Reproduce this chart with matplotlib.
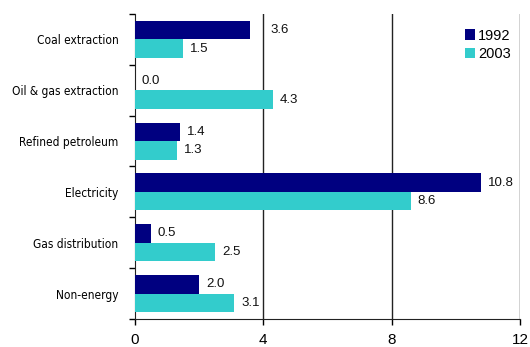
import matplotlib
matplotlib.use("Agg")
import matplotlib.pyplot as plt
import numpy as np

categories = ["Coal extraction", "Oil & gas extraction", "Refined petroleum",
              "Electricity", "Gas distribution", "Non-energy"]
values_1992 = [3.6, 0.0, 1.4, 10.8, 0.5, 2.0]
values_2003 = [1.5, 4.3, 1.3, 8.6, 2.5, 3.1]
series_names = ["1992", "2003"]
x_ticks = [0, 4, 8, 12]

navy = "#000080"
teal = "#33CCCC"
num_font = "Liberation Sans"

fig = plt.figure(figsize=(5.3, 3.47), dpi=100)
ax = fig.add_axes([0.2547, 0.0807, 0.7263, 0.879])

y = np.arange(len(categories))
h = 0.365
b1 = ax.barh(y - h / 2, values_1992, height=h, color=navy, label=series_names[0], zorder=3)
b2 = ax.barh(y + h / 2, values_2003, height=h, color=teal, label=series_names[1], zorder=3)

ax.set_xlim(0, 12)
ax.set_ylim(len(categories) - 0.5, -0.5)

# value labels sit just right of each bar; a label that would straddle a
# gridline is pushed past it
for bars, vals in ((b1, values_1992), (b2, values_2003)):
    for bar, v in zip(bars, vals):
        start = v
        for g in x_ticks[1:]:
            if v < g < v + 0.75:
                start = g
        ax.annotate(f"{v:.1f}", (start, bar.get_y() + bar.get_height() / 2),
                    xytext=(5, 0), textcoords="offset points",
                    va="center", ha="left", fontsize=9.5, family=num_font, color="#111111")

ax.set_xticks(x_ticks)
ax.set_xticklabels([str(t) for t in x_ticks], fontsize=11, family=num_font)
ax.set_yticks(y)
ax.set_yticklabels(categories, fontsize=8.6, family="DejaVu Sans", fontstretch="condensed")
ax.set_yticks(np.arange(len(categories) + 1) - 0.5, minor=True)
ax.tick_params(axis="y", which="major", length=0, pad=12)
ax.tick_params(axis="y", which="minor", length=4, direction="out", width=1)
ax.tick_params(axis="x", length=4, direction="out", width=1, pad=6)

for xv in x_ticks[1:]:
    ax.axvline(xv, color="#222222", linewidth=1, zorder=1)

for s in ("top", "right"):
    ax.spines[s].set_visible(False)
ax.spines["left"].set_color("#222222")
ax.spines["bottom"].set_color("#222222")

ax.legend(loc="upper right", bbox_to_anchor=(1.01, 0.995), frameon=False,
          handlelength=0.7, handleheight=0.7, handletextpad=0.2,
          labelspacing=0.3, prop={"family": num_font, "size": 10.5})

fig.savefig("out.png", dpi=100)
